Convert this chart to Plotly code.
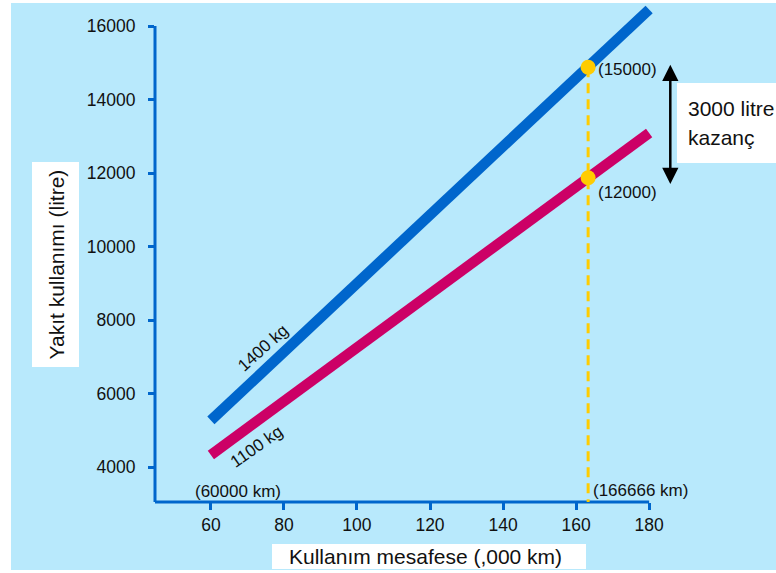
import plotly.graph_objects as go

# ---- data ----
distance_k = [60, 180]                 # ,000 km
fuel_1400 = [5270, 16450]              # litre, 1400 kg car
fuel_1100 = [4330, 13090]              # litre, 1100 kg car
marker_x = 163.3                       # where the dashed guide is drawn
marker_y = [14880, 11870]              # points on the two lines
marker_labels = ["(15000)", "(12000)"]
x_ticks = [60, 80, 100, 120, 140, 160, 180]
y_ticks = [4000, 6000, 8000, 10000, 12000, 14000, 16000]
series_names = ["1400 kg", "1100 kg"]

BG = "#B8E9FC"
BLUE = "#0066CC"
PINK = "#CC0066"
YEL = "#FFCC00"
FONT = "Liberation Sans, Arial, sans-serif"
TXT = "#111111"

W, H = 776, 573
ML, MR, MT, MB = 155, 6, 3, 71
XR = [44.7, 213.1]
YR = [3050, 16626]
PW = W - ML - MR
PH = H - MT - MB


def px(xp):
    return (xp - ML) / PW


def py(yp):
    return (H - MB - yp) / PH


def xf(v):
    return (v - XR[0]) / (XR[1] - XR[0])


def yf(v):
    return (v - YR[0]) / (YR[1] - YR[0])


fig = go.Figure()
fig.add_trace(go.Scatter(x=distance_k, y=fuel_1400, mode="lines",
                         line=dict(color=BLUE, width=10.5), hoverinfo="skip", showlegend=False))
fig.add_trace(go.Scatter(x=distance_k, y=fuel_1100, mode="lines",
                         line=dict(color=PINK, width=10.5), hoverinfo="skip", showlegend=False))
fig.add_trace(go.Scatter(x=[marker_x, marker_x], y=[marker_y[0], YR[0]], mode="lines",
                         line=dict(color=YEL, width=3, dash="10px,6px"), hoverinfo="skip",
                         showlegend=False))
fig.add_trace(go.Scatter(x=[marker_x, marker_x], y=marker_y, mode="markers",
                         marker=dict(color=YEL, size=15), hoverinfo="skip", showlegend=False))

shapes = [
    dict(type="rect", xref="paper", yref="paper", x0=px(11), x1=px(777), y0=py(570), y1=py(3),
         fillcolor=BG, line_width=0, layer="below"),
    # white title boxes
    dict(type="rect", xref="paper", yref="paper", x0=px(32), x1=px(79), y0=py(367), y1=py(162),
         fillcolor="white", line_width=0, layer="below"),
    dict(type="rect", xref="paper", yref="paper", x0=px(272), x1=px(586), y0=py(569), y1=py(544),
         fillcolor="white", line_width=0, layer="below"),
    dict(type="rect", xref="paper", yref="paper", x0=px(677), x1=px(777), y0=py(163), y1=py(83),
         fillcolor="white", line_width=0, layer="below"),
    # axis lines
    dict(type="line", xref="paper", yref="paper", x0=0, x1=0, y0=0, y1=yf(y_ticks[-1]),
         line=dict(color=BLUE, width=3), layer="below"),
    dict(type="line", xref="paper", yref="paper", x0=0, x1=xf(x_ticks[-1]), y0=0, y1=0,
         line=dict(color=BLUE, width=3), layer="below"),
]

f17 = dict(family=FONT, size=17, color=TXT)
f21 = dict(family=FONT, size=21, color=TXT)
ann = [
    dict(x=74.5, y=7240, xref="x", yref="y", text=series_names[0], showarrow=False,
         textangle=-42, font=f17, xanchor="center", yanchor="middle"),
    dict(x=72.6, y=4560, xref="x", yref="y", text=series_names[1], showarrow=False,
         textangle=-35, font=f17, xanchor="center", yanchor="middle"),
    dict(x=marker_x, y=marker_y[0], xref="x", yref="y", text=marker_labels[0], showarrow=False,
         xanchor="left", yanchor="middle", xshift=8, yshift=-2, font=f17),
    dict(x=marker_x, y=marker_y[1], xref="x", yref="y", text=marker_labels[1], showarrow=False,
         xanchor="left", yanchor="middle", xshift=8, yshift=-15, font=f17),
    dict(x=px(193), y=py(491), xref="paper", yref="paper", text="(60000 km)", showarrow=False,
         xanchor="left", yanchor="middle", font=f17),
    dict(x=px(591), y=py(490), xref="paper", yref="paper", text="(166666 km)", showarrow=False,
         xanchor="left", yanchor="middle", font=f17),
    dict(x=px(686), y=py(108), xref="paper", yref="paper", text="3000 litre", showarrow=False,
         xanchor="left", yanchor="middle", font=f21),
    dict(x=px(686), y=py(137), xref="paper", yref="paper", text="kazanç", showarrow=False,
         xanchor="left", yanchor="middle", font=f21),
    dict(x=px(55.5), y=py(265), xref="paper", yref="paper", text="Yakıt kullanımı (litre)",
         showarrow=False, textangle=-90, xanchor="center", yanchor="middle", font=f21),
    dict(x=px(425), y=py(556.5), xref="paper", yref="paper", text="Kullanım mesafese (,000 km)",
         showarrow=False, xanchor="center", yanchor="middle", font=f21),
    # double headed arrow
    dict(x=185.8, y=11700, ax=185.8, ay=14990, xref="x", yref="y", axref="x", ayref="y",
         text="", showarrow=True, arrowhead=2, startarrowhead=2, arrowside="end+start",
         arrowsize=1.3, startarrowsize=1.3, arrowwidth=2.5, arrowcolor="black",
         standoff=0, startstandoff=0),
]

fig.update_layout(
    width=W, height=H,
    margin=dict(l=ML, r=MR, t=MT, b=MB, pad=0),
    paper_bgcolor="white", plot_bgcolor="rgba(0,0,0,0)",
    shapes=shapes, annotations=ann, showlegend=False,
    font=dict(family=FONT, color=TXT),
)
fig.update_xaxes(range=XR, tickvals=x_ticks, ticktext=[str(v) for v in x_ticks],
                 ticks="outside", ticklen=7, tickwidth=3,
                 tickcolor=BLUE, showgrid=False, zeroline=False, showline=False,
                 tickfont=dict(family=FONT, size=17.5, color=TXT), fixedrange=True)
fig.update_yaxes(range=YR, tickvals=y_ticks, ticktext=[str(v) for v in y_ticks],
                 ticks="outside", ticklen=6, tickwidth=3, ticklabelstandoff=9,
                 tickcolor=BLUE, showgrid=False, zeroline=False, showline=False,
                 tickfont=dict(family=FONT, size=17.5, color=TXT), fixedrange=True)

fig.write_html("out.html", config={"displayModeBar": False},
               post_script="document.body.style.margin='0';document.body.style.overflow='hidden';")
